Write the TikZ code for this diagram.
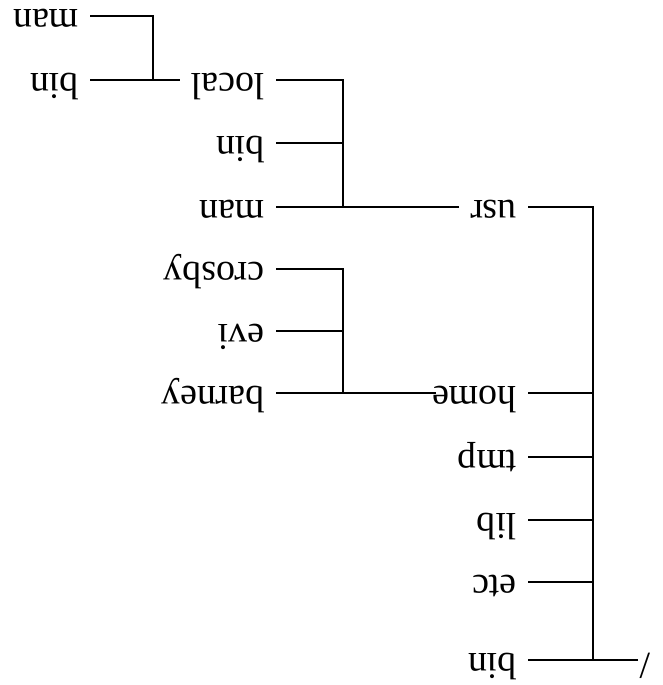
\documentclass[tikz,border=0pt]{standalone}
\usepackage{fontspec}
\setmainfont{Liberation Serif}
\begin{document}
\begin{tikzpicture}[x=1pt,y=-1pt,
  wire/.style={line width=2.9pt},
  dir/.style={rotate=180, anchor=mid west, inner xsep=11pt, inner ysep=0pt,
    font=\fontsize{38}{40}\selectfont,
    execute at begin node={\lower4pt\hbox\bgroup},
    execute at end node={\egroup}}]
\useasboundingbox (0,0) rectangle (662,685);

% root
\node[dir, anchor=mid east, inner xsep=2pt] (root) at (638,660) {/};

% first level
\node[dir] (usr)  at (528,207) {usr};
\node[dir] (home) at (528,393) {home};
\node[dir] (tmp)  at (528,457) {tmp};
\node[dir] (lib)  at (528,520) {lib};
\node[dir] (etc)  at (528,582) {etc};
\node[dir] (bin)  at (528,660) {bin};

% below usr
\node[dir] (local)  at (276,80)  {local};
\node[dir] (ubin)   at (276,143) {bin};
\node[dir] (uman)   at (276,207) {man};
% below home
\node[dir] (crosby) at (276,269) {crosby};
\node[dir] (evi)    at (276,331) {evi};
\node[dir] (barney) at (276,393) {barney};

% below local
\node[dir] (lman) at (90,16) {man};
\node[dir] (lbin) at (90,80) {bin};

% junction points
\coordinate (t0) at (593,660);
\coordinate (j1) at (343,207);
\coordinate (j2) at (343,393);
\coordinate (j3) at (153,80);

% root trunk
\draw[wire] (root.mid east) -- (t0);
\draw[wire] (t0) |- (usr.mid west);
\draw[wire] (t0 |- home.mid west) -- (home.mid west);
\draw[wire] (t0 |- tmp.mid west) -- (tmp.mid west);
\draw[wire] (t0 |- lib.mid west) -- (lib.mid west);
\draw[wire] (t0 |- etc.mid west) -- (etc.mid west);
\draw[wire] (t0) -- (bin.mid west);

% usr subtree
\draw[wire] (usr.mid east) -- (uman.mid west);
\draw[wire] (j1) |- (local.mid west);
\draw[wire] (j1 |- ubin.mid west) -- (ubin.mid west);

% home subtree
\draw[wire, shorten <=-15pt] (home.mid east) -- (barney.mid west);
\draw[wire] (j2) |- (crosby.mid west);
\draw[wire] (j2 |- evi.mid west) -- (evi.mid west);

% local subtree
\draw[wire] (local.mid east) -- (lbin.mid west);
\draw[wire] (j3) |- (lman.mid west);
\end{tikzpicture}
\end{document}
